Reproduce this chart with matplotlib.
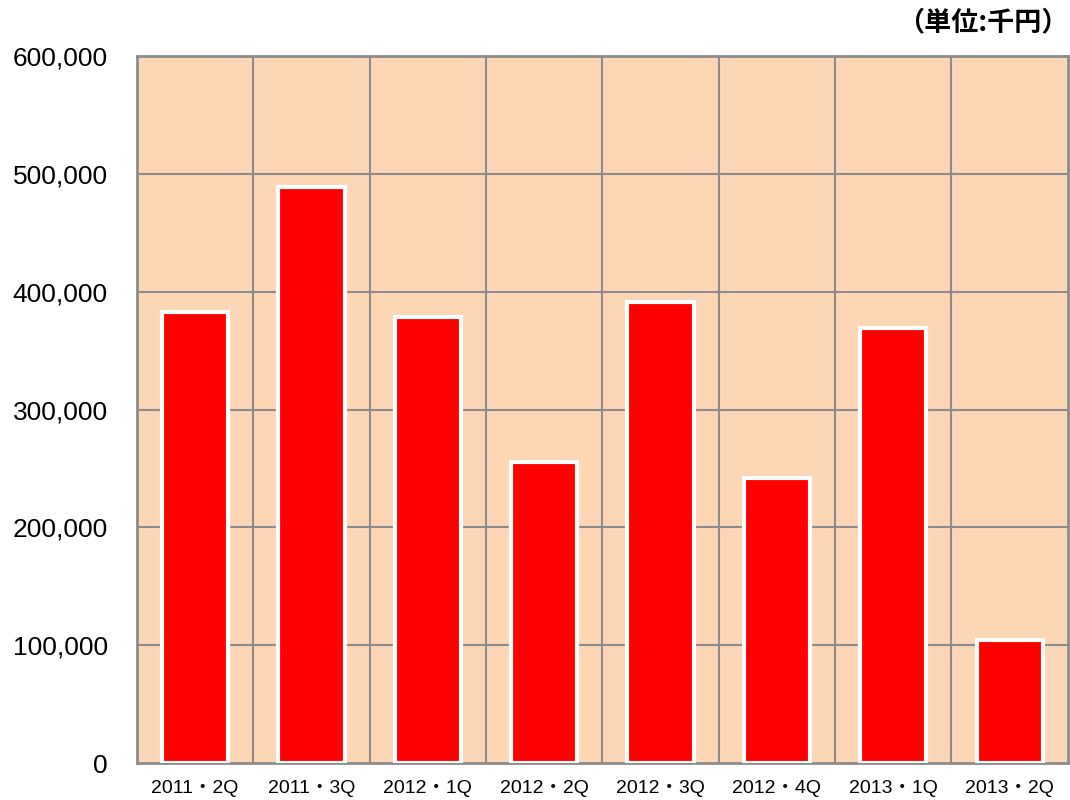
import matplotlib
matplotlib.use("Agg")
import matplotlib.pyplot as plt
from matplotlib.ticker import FuncFormatter

# datos (千円)
categorias = ["2011・2Q", "2011・3Q", "2012・1Q", "2012・2Q",
              "2012・3Q", "2012・4Q", "2013・1Q", "2013・2Q"]
valores = [383000, 489000, 378500, 255500, 391500, 242000, 369000, 104500]

fuentes = ["Liberation Sans", "Noto Sans CJK JP", "DejaVu Sans"]
plt.rcParams["font.family"] = fuentes

fig = plt.figure(figsize=(10.7, 8), dpi=100)
ax = fig.add_axes([0.128, 0.046, 0.870, 0.884])
ax.set_facecolor("#fcd6b5")

x = range(len(categorias))
ax.bar(x, valores, width=0.57, color="#ff0000", edgecolor="white",
       linewidth=3, zorder=3)

ax.set_xlim(-0.5, len(categorias) - 0.5)
ax.set_ylim(0, 600000)
ax.set_yticks(range(0, 600001, 100000))
ax.yaxis.set_major_formatter(FuncFormatter(lambda v, p: f"{int(v):,}"))

# cuadricula: horizontales y separadores de categorias
for y in range(100000, 600000, 100000):
    ax.axhline(y, color="#8c8c8c", lw=1.5, zorder=1)
for i in range(1, len(categorias)):
    ax.axvline(i - 0.5, color="#8c8c8c", lw=1.5, zorder=1)

ax.set_xticks(list(x))
ax.set_xticklabels(categorias, fontsize=14)
ax.tick_params(axis="y", labelsize=19, length=0, pad=21)
ax.tick_params(axis="x", length=0, pad=12)

for s in ax.spines.values():
    s.set_color("#8c8c8c")
    s.set_linewidth(2)

fig.text(0.999, 0.972, "（単位:千円）", ha="right", va="center",
         fontsize=19.5, fontweight="bold", family=["Noto Sans CJK JP", "DejaVu Sans"])

fig.savefig("out.png", dpi=100)
